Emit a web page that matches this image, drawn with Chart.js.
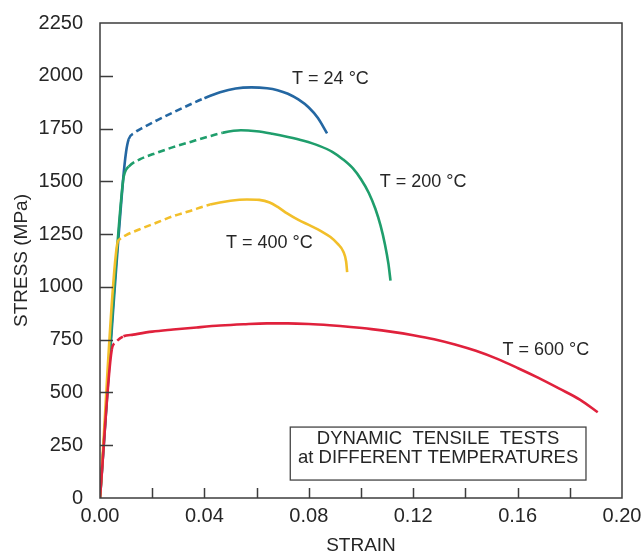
<!DOCTYPE html>
<html>
<head>
<meta charset="utf-8">
<script src="https://cdn.jsdelivr.net/npm/chart.js@4"></script>
<style>
  body { margin: 0; background: #fff; }
  #wrap { width: 644px; height: 551px; }
</style>
</head>
<body>
<div id="wrap"><canvas id="tensileChart"></canvas></div>
<script>
// strain / stress (MPa)
const strain24 = [0, 0.0088, 0.0100, 0.0110, 0.0130, 0.0170, 0.0220, 0.0280, 0.0345, 0.0400, 0.0460, 0.0520, 0.0580, 0.0640, 0.0680, 0.0720, 0.0760, 0.0800, 0.0835, 0.0870]
const stress24 = [0, 1500, 1640, 1700, 1728, 1758, 1790, 1826, 1864, 1894, 1922, 1940, 1945, 1941, 1932, 1915, 1888, 1850, 1800, 1727]

const strain200 = [0, 0.0088, 0.0096, 0.0110, 0.0154, 0.0220, 0.0280, 0.0350, 0.0410, 0.0470, 0.0540, 0.0600, 0.0660, 0.0720, 0.0780, 0.0840, 0.0890, 0.0930, 0.0970, 0.1000, 0.1030, 0.1055, 0.1075, 0.1092, 0.1105, 0.1113]
const stress200 = [0, 1500, 1545, 1570, 1605, 1636, 1662, 1688, 1710, 1730, 1742, 1737, 1725, 1710, 1692, 1668, 1640, 1605, 1560, 1510, 1445, 1370, 1290, 1200, 1110, 1030]

const strain400 = [0, 0.0066, 0.0075, 0.0100, 0.0150, 0.0218, 0.0280, 0.0345, 0.0422, 0.0500, 0.0563, 0.0610, 0.0650, 0.0685, 0.0717, 0.0760, 0.0806, 0.0850, 0.0883, 0.0910, 0.0932, 0.0943, 0.0947]
const stress400 = [0, 1203, 1225, 1245, 1272, 1305, 1335, 1360, 1390, 1408, 1414, 1412, 1400, 1375, 1348, 1317, 1290, 1262, 1236, 1205, 1168, 1120, 1070]

const strain600 = [0, 0.0045, 0.0058, 0.0090, 0.0128, 0.0200, 0.0280, 0.0370, 0.0460, 0.0550, 0.0640, 0.0720, 0.0800, 0.0880, 0.0960, 0.1040, 0.1120, 0.1200, 0.1280, 0.1360, 0.1440, 0.1520, 0.1600, 0.1680, 0.1760, 0.1840, 0.1907]
const stress600 = [0, 702, 735, 766, 774, 788, 798, 808, 817, 823, 827, 827, 824, 818, 810, 800, 787, 771, 752, 727, 697, 660, 616, 569, 518, 465, 406]

// strain ranges drawn dashed on each curve
const dashed24 = [0.0110, 0.0400]
const dashed200 = [0.0100, 0.0470]
const dashed400 = [0.0066, 0.0422]
const dashed600 = [0.0045, 0.0100]

// curve labels: [text, strain, stress]
const curveLabels = [
  ['T = 24 °C', 0.0883, 1983],
  ['T = 200 °C', 0.1238, 1495],
  ['T = 400 °C', 0.0649, 1209],
  ['T = 600 °C', 0.1708, 701]
]
const boxLines = ['DYNAMIC  TENSILE  TESTS', 'at DIFFERENT TEMPERATURES']
const boxCorners = [0.0729, 336, 0.1862, 85] // strain/stress of box corners

const FONT = "'Liberation Sans', Arial, Helvetica, sans-serif"
const INK = '#262626'

function curve(label, xs, ys, color, dashRange) {
  return {
    label,
    data: xs.map((x, i) => ({ x, y: ys[i] })),
    showLine: true,
    borderColor: color,
    backgroundColor: color,
    borderWidth: 2.6,
    pointRadius: 0,
    cubicInterpolationMode: 'monotone',
    segment: {
      borderDash: (ctx) =>
        ctx.p0.parsed.x >= dashRange[0] - 1e-6 && ctx.p1.parsed.x <= dashRange[1] + 1e-6
          ? [7, 4]
          : undefined
    }
  }
}

const framePlugin = {
  id: 'frame',
  afterDatasetsDraw(chart) {
    const { ctx, chartArea: a, scales } = chart
    const { x, y } = scales
    ctx.save()
    ctx.strokeStyle = '#3c3c3c'
    ctx.lineWidth = 1.5
    ctx.strokeRect(a.left, a.top, a.right - a.left, a.bottom - a.top)
    ctx.beginPath()
    x.ticks.forEach((t) => {
      if (t.value <= 0 || t.value >= 0.2 - 1e-9) return
      const px = Math.round(x.getPixelForValue(t.value)) + 0.5
      ctx.moveTo(px, a.bottom)
      ctx.lineTo(px, a.bottom - 10)
    })
    y.ticks.forEach((t) => {
      if (t.value <= 0 || t.value >= 2250) return
      const py = Math.round(y.getPixelForValue(t.value)) + 0.5
      ctx.moveTo(a.left, py)
      ctx.lineTo(a.left + 13, py)
    })
    ctx.stroke()

    // curve labels
    ctx.fillStyle = INK
    ctx.font = '18px ' + FONT
    ctx.textAlign = 'center'
    ctx.textBaseline = 'middle'
    curveLabels.forEach(([text, sx, sy]) => {
      ctx.fillText(text, x.getPixelForValue(sx), y.getPixelForValue(sy))
    })

    // title box
    const bx0 = x.getPixelForValue(boxCorners[0])
    const by0 = y.getPixelForValue(boxCorners[1])
    const bx1 = x.getPixelForValue(boxCorners[2])
    const by1 = y.getPixelForValue(boxCorners[3])
    ctx.fillStyle = '#fff'
    ctx.fillRect(bx0, by0, bx1 - bx0, by1 - by0)
    ctx.strokeStyle = '#444'
    ctx.lineWidth = 1.3
    ctx.strokeRect(bx0, by0, bx1 - bx0, by1 - by0)
    ctx.fillStyle = INK
    ctx.font = '18.5px ' + FONT
    const cx = (bx0 + bx1) / 2
    ctx.fillText(boxLines[0], cx, by0 + 12)
    ctx.fillText(boxLines[1], cx, by0 + 31)
    ctx.restore()
  }
}

new Chart(document.getElementById('tensileChart'), {
  type: 'scatter',
  data: {
    datasets: [
      curve('T = 600 °C', strain600, stress600, '#e0213c', dashed600),
      curve('T = 400 °C', strain400, stress400, '#f2bf2a', dashed400),
      curve('T = 200 °C', strain200, stress200, '#1f9e6c', dashed200),
      curve('T = 24 °C', strain24, stress24, '#2467a2', dashed24)
    ]
  },
  options: {
    responsive: true,
    maintainAspectRatio: false,
    animation: false,
    layout: { padding: { top: 23, right: 22, left: 0, bottom: 0 } },
    plugins: {
      legend: { display: false },
      tooltip: { enabled: false }
    },
    scales: {
      x: {
        type: 'linear',
        min: 0,
        max: 0.2,
        grid: { display: false },
        border: { display: false },
        afterFit: (scale) => { scale.height = 53 },
        ticks: {
          stepSize: 0.02,
          padding: -2,
          color: INK,
          font: { family: FONT, size: 20 },
          maxRotation: 0,
          autoSkip: false,
          callback: (value) => {
            const hundredths = Math.round(value * 100)
            return hundredths % 4 === 0 ? (hundredths / 100).toFixed(2) : ''
          }
        },
        title: {
          display: true,
          text: 'STRAIN',
          color: INK,
          font: { family: FONT, size: 19 },
          padding: { top: 0, bottom: -6 }
        }
      },
      y: {
        type: 'linear',
        min: 0,
        max: 2250,
        grid: { display: false },
        border: { display: false },
        afterFit: (scale) => { scale.width = 100 },
        ticks: {
          stepSize: 250,
          padding: 9,
          color: INK,
          font: { family: FONT, size: 20 },
          callback: (value) => String(value)
        },
        title: {
          display: true,
          text: 'STRESS (MPa)',
          color: INK,
          font: { family: FONT, size: 19 },
          padding: { top: 10.6, bottom: 0 }
        }
      }
    }
  },
  plugins: [framePlugin]
})
</script>
</body>
</html>
